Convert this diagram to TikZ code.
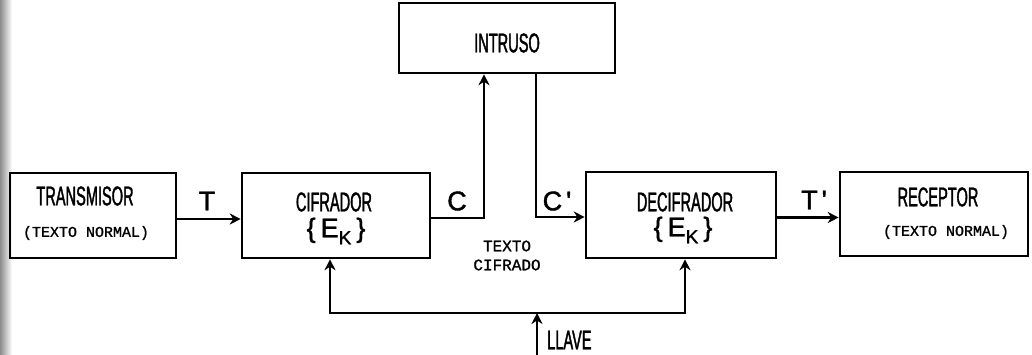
\documentclass[tikz,border=0pt]{standalone}
\usepackage{fontspec}
\setmainfont{Liberation Sans}
\newfontfamily\plotfont[FakeStretch=0.54,FakeBold=1.4]{Liberation Sans}
\newfontfamily\plotwide[FakeBold=1.5]{Liberation Sans}
\newfontfamily\plotmono[FakeBold=1.2]{Liberation Mono}
\usetikzlibrary{arrows.meta,calc}
\tikzset{
  blk/.style={draw, line width=2.6pt, rectangle, inner sep=0pt},
  ttl/.style={font=\plotfont\fontsize{27}{27}\selectfont, inner sep=0pt},
  sub/.style={font=\plotmono\fontsize{15}{15}\selectfont, inner sep=0pt},
  sub2/.style={font=\plotmono\fontsize{16}{16}\selectfont, inner sep=0pt},
  lbl/.style={font=\plotwide\fontsize{27}{27}\selectfont, inner sep=0pt},
  ek/.style={font=\plotwide\fontsize{27}{27}\selectfont, inner sep=0pt},
  arr/.style={line width=2.6pt, -{Stealth[length=11pt,width=11pt]}},
}
\newcommand{\ekey}{\{\hspace{5pt}E\raisebox{-7pt}{\fontsize{19}{19}\selectfont K}\hspace{5pt}\}}
\begin{document}
\begin{tikzpicture}[x=1pt,y=-1pt]
\useasboundingbox (0,0) rectangle (1032,354);
\shade[left color=black!45, right color=white] (0,0) rectangle (12,354);
% boxes
\node[blk, minimum width=166pt, minimum height=85pt] (tx) at (93,215.5) {};
\node[blk, minimum width=188pt, minimum height=85pt] (cif) at (336,215.5) {};
\node[blk, minimum width=216pt, minimum height=70pt] (intr) at (507,38) {};
\node[blk, minimum width=190pt, minimum height=86pt] (dec) at (681,215) {};
\node[blk, minimum width=188pt, minimum height=84pt] (rec) at (934,214) {};
% box texts
\node[ttl] (txt1) at (85,196) {TRANSMISOR};
\node[sub] (txt2) at (86,233) {(TEXTO NORMAL)};
\node[ttl] (cif1) at (334,202) {CIFRADOR};
\node[ek] (cif2) at (336,231) {\ekey};
\node[ttl] (intr1) at (507,43) {INTRUSO};
\node[ttl] (dec1) at (685,202) {DECIFRADOR};
\node[ek] (dec2) at (683,230) {\ekey};
\node[ttl] (rec1) at (938,197) {RECEPTOR};
\node[sub] (rec2) at (946,232) {(TEXTO NORMAL)};
\node[sub2] (tc1) at (507,246) {TEXTO};
\node[sub2] (tc2) at (507,265) {CIFRADO};
% connector labels
\node[lbl] (lT) at (207,201) {T};
\node[lbl] (lC) at (457,201) {C};
\node[lbl] (lC2) at (557,201) {C\hspace{4pt}'};
\node[lbl] (lT2) at (814,200) {T\hspace{4pt}'};
\node[ttl, anchor=west] (lk) at (547,340) {LLAVE};
% connectors
\draw[arr] ([yshift=-3.5pt]tx.east) coordinate (ts) -- (ts -| cif.west);
\draw[arr] ([yshift=-2.5pt]cif.east) -| ([xshift=-23pt]intr.south);
\draw[arr] ([xshift=29pt]intr.south) |- ([yshift=-2pt]dec.west);
\draw[arr] ([yshift=-2.5pt]dec.east) coordinate (t2s) -- (t2s -| rec.west);
\coordinate (kb) at (537,356);
\coordinate (kj) at (537,313);
\draw[arr] (kb) -- (kj);
\draw[arr] (kj) -| ([xshift=-6pt]cif.south);
\draw[arr] (kj) -| ([xshift=4pt]dec.south);
\end{tikzpicture}
\end{document}
